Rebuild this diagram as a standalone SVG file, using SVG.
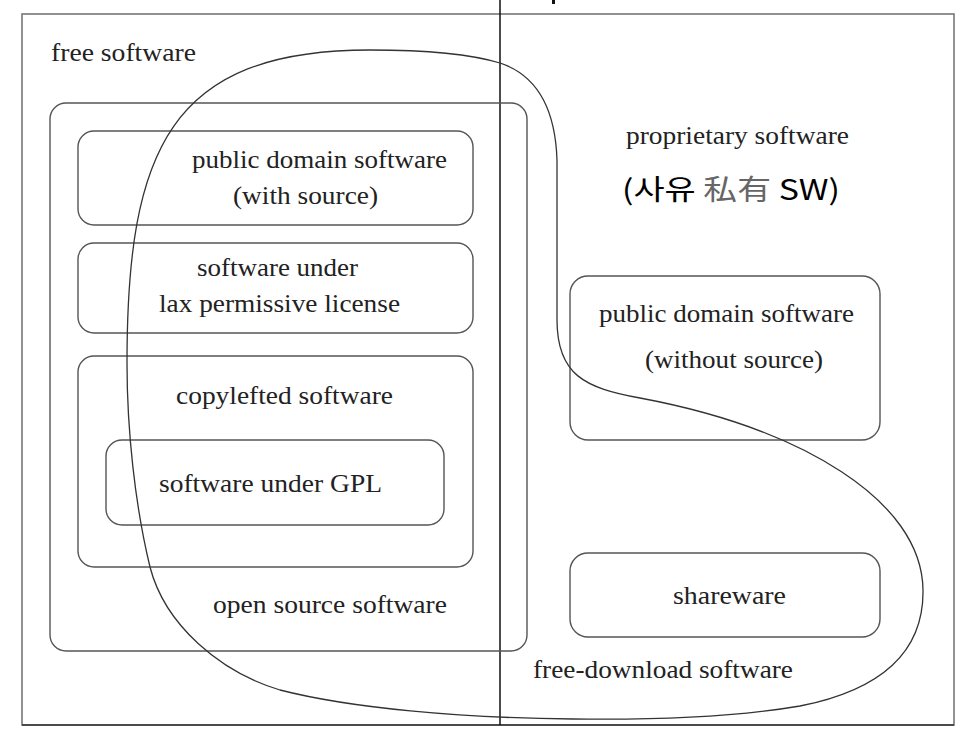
<svg xmlns="http://www.w3.org/2000/svg" width="972" height="735" viewBox="0 0 972 735">
<style>
.box{fill:none;stroke:#555;stroke-width:1.4}
.t{font-family:"Liberation Serif","Times New Roman",serif;font-size:25px;fill:#222}
.k{font-family:"Noto Sans CJK KR","Noto Sans",sans-serif;font-size:28px;fill:#000}
</style>
<rect x="0" y="0" width="972" height="735" fill="#fff"/>
<g id="frame">
<rect x="22" y="14" width="932" height="711" fill="none" stroke="#777" stroke-width="1.6"/>
<line x1="22" y1="725" x2="954" y2="725" stroke="#333" stroke-width="1.6"/>
<line x1="500" y1="0" x2="500" y2="725" stroke="#111" stroke-width="1.5"/>
<rect x="552" y="0" width="3" height="4" fill="#111"/>
</g>
<g id="free-software">
<text class="t" x="51" y="61" textLength="145" lengthAdjust="spacingAndGlyphs">free software</text>
</g>
<g id="open-source">
<rect class="box" x="50" y="103" width="477" height="548" rx="16"/>
<text class="t" x="213" y="613" textLength="234" lengthAdjust="spacingAndGlyphs">open source software</text>
</g>
<g id="pd-with-source">
<rect class="box" x="78" y="131" width="395" height="94" rx="16"/>
<text class="t" x="192" y="168" textLength="255" lengthAdjust="spacingAndGlyphs">public domain software</text>
<text class="t" x="233" y="204" textLength="145" lengthAdjust="spacingAndGlyphs">(with source)</text>
</g>
<g id="lax">
<rect class="box" x="78" y="243" width="395" height="90" rx="16"/>
<text class="t" x="197" y="276" textLength="161" lengthAdjust="spacingAndGlyphs">software under</text>
<text class="t" x="159" y="312" textLength="241" lengthAdjust="spacingAndGlyphs">lax permissive license</text>
</g>
<g id="copyleft">
<rect class="box" x="78" y="356" width="395" height="211" rx="16"/>
<text class="t" x="176" y="404" textLength="217" lengthAdjust="spacingAndGlyphs">copylefted software</text>
</g>
<g id="gpl">
<rect class="box" x="106" y="440" width="338" height="85" rx="16"/>
<text class="t" x="159" y="492" textLength="223" lengthAdjust="spacingAndGlyphs">software under GPL</text>
</g>
<g id="proprietary">
<text class="t" x="626" y="144" textLength="223" lengthAdjust="spacingAndGlyphs">proprietary software</text>
<text class="k" x="622" y="200" textLength="218" lengthAdjust="spacingAndGlyphs">(사유 <tspan fill="#666">私有</tspan> SW)</text>
</g>
<g id="pd-without-source">
<rect class="box" x="570" y="276" width="310" height="164" rx="18"/>
<text class="t" x="599" y="322" textLength="255" lengthAdjust="spacingAndGlyphs">public domain software</text>
<text class="t" x="645" y="368" textLength="178" lengthAdjust="spacingAndGlyphs">(without source)</text>
</g>
<g id="shareware">
<rect class="box" x="570" y="553" width="310" height="84" rx="18"/>
<text class="t" x="673" y="604" textLength="113" lengthAdjust="spacingAndGlyphs">shareware</text>
</g>
<g id="free-download">
<path fill="none" stroke="#333" stroke-width="1.3" d="M370 50 C430 50,470 54,500 63 C530 73,555 100,557 160 L557 320 C557 375,585 388,640 398 C800 428,922 500,923 590 C924 660,870 692,800 706 C730 718,650 720,573 719 C460 718,350 708,280 690 C220 672,165 625,150 567 C135 505,127 430,127 363 C127 150,170 50,370 50 Z"/>
<text class="t" x="533" y="678" textLength="260" lengthAdjust="spacingAndGlyphs">free-download software</text>
</g>
</svg>
